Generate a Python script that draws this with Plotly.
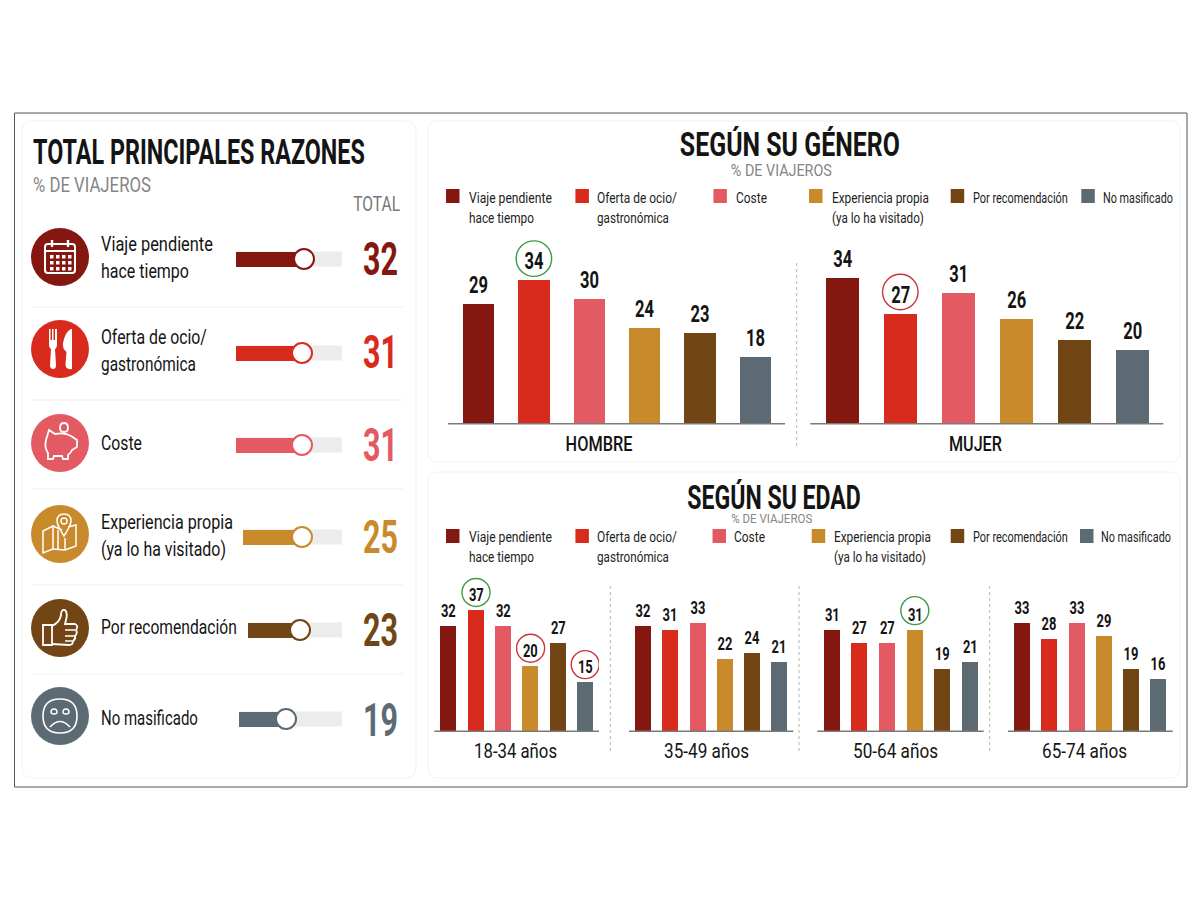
import re
import json
import plotly.graph_objects as go

# ---------------------------
# data
# ---------------------------
reasons = ['Viaje pendiente\nhace tiempo', 'Oferta de ocio/\ngastronómica', 'Coste',
           'Experiencia propia\n(ya lo ha visitado)', 'Por recomendación', 'No masificado']
total_values = [32, 31, 31, 25, 23, 19]

hombre = [29, 34, 30, 24, 23, 18]
mujer = [34, 27, 31, 26, 22, 20]
edad_18_34 = [32, 37, 32, 20, 27, 15]
edad_35_49 = [32, 31, 33, 22, 24, 21]
edad_50_64 = [31, 27, 27, 31, 19, 21]
edad_65_74 = [33, 28, 33, 29, 19, 16]

colors = ['#84170f', '#d92a1e', '#e35a63', '#c88a2b', '#714514', '#5c6b73']
GREEN = '#3f9a45'
RED = '#c9343a'
FONT = 'Roboto'
TEXT = '#141414'

# width of each text in the reference, its font is a condensed one
row_widths = {'Viaje pendiente': 112, 'hace tiempo': 88, 'Oferta de ocio/': 106, 'gastronómica': 95, 'Coste': 41,
              'Experiencia propia': 132, '(ya lo ha visitado)': 125, 'Por recomendación': 136, 'No masificado': 97}
legend_widths = {'Viaje pendiente': 83, 'hace tiempo': 65, 'Oferta de ocio/': 80, 'gastronómica': 72, 'Coste': 31,
                 'Experiencia propia': 97, '(ya lo ha visitado)': 92, 'Por recomendación': 95, 'No masificado': 70}

fig = go.Figure()
shapes = []
annotations = []
text_widths = []
layout = dict(
    width=1200, height=900, autosize=False,
    margin=dict(l=0, r=0, t=0, b=0, pad=0),
    paper_bgcolor='white', plot_bgcolor='rgba(0,0,0,0)',
    showlegend=False, bargap=0,
    font=dict(family=FONT, color=TEXT),
    # full page axis in pixels, used for everything around the charts
    xaxis=dict(domain=[0, 1], range=[0, 1200], visible=False, fixedrange=True),
    yaxis=dict(domain=[0, 1], range=[900, 0], visible=False, fixedrange=True),
)
fig.add_trace(go.Scatter(x=[], y=[], xaxis='x', yaxis='y', hoverinfo='skip'))


def txt(x, y, s, size, color=TEXT, anchor='left', weight=400, w=None):
    # annotations keep 2px of padding around the text
    x = x + {'left': -2, 'right': 2, 'center': 0}[anchor]
    text_widths.append(w)
    annotations.append(dict(x=x, y=y, xref='x', yref='y', text=s, showarrow=False,
                            xanchor=anchor, yanchor='middle', align=anchor,
                            font=dict(family=FONT, size=size, color=color, weight=weight)))


def lines(x, y, s, size, step, widths, color=TEXT, weight=400):
    for i, part in enumerate(s.split('\n')):
        txt(x, y + i * step, part, size, color, weight=weight, w=widths[part])


def rounded(x0, y0, x1, y1, r):
    return (f'M {x0 + r} {y0} L {x1 - r} {y0} Q {x1} {y0} {x1} {y0 + r} L {x1} {y1 - r} '
            f'Q {x1} {y1} {x1 - r} {y1} L {x0 + r} {y1} Q {x0} {y1} {x0} {y1 - r} '
            f'L {x0} {y0 + r} Q {x0} {y0} {x0 + r} {y0} Z')


def shape(**kw):
    kw.setdefault('xref', 'x')
    kw.setdefault('yref', 'y')
    kw.setdefault('layer', 'below')
    shapes.append(kw)


def icon(cx, cy, d, fill=None, width=1.6):
    # d is written around the centre of the icon
    nums = iter(range(10000))
    def move(m):
        return str(round(float(m.group()) + (cx if next(nums) % 2 == 0 else cy), 2))
    path = re.sub(r'-?\d+\.?\d*', move, d)
    shape(type='path', path=path, fillcolor=fill or 'rgba(0,0,0,0)',
          line=dict(color='white', width=0 if fill else width))


# ---------------------------
# frame and cards
# ---------------------------
shape(type='rect', x0=14.5, y0=113, x1=1187, y1=787, line=dict(color='#555555', width=1), fillcolor='white')
for box in [(22, 121, 416, 778), (428, 121, 1180, 462), (428, 472, 1180, 778)]:
    shape(type='path', path=rounded(*box, 10), line=dict(color='#f1f1f1', width=1), fillcolor='white')

# ---------------------------
# left panel
# ---------------------------
txt(33, 152, 'TOTAL PRINCIPALES RAZONES', 35, weight=700, w=332)
txt(33, 185, '% DE VIAJEROS', 20, '#858585', w=118)
txt(400, 204, 'TOTAL', 21, '#777777', anchor='right', w=47)

icon_y = [257, 349, 443, 534, 628, 716]
text_y = [244, 337, 443, 522, 627, 718]
slider_y = [259, 353, 445, 537, 630, 719]
slider_left = [236, 236, 236, 243, 248, 239]
knob_x = [304, 302, 302, 302, 300, 286]
total_y = [259, 352, 445, 537, 630, 720]
TRACK_END = 342

for sep in [307, 400, 489, 585, 674]:
    shape(type='line', x0=31, x1=403, y0=sep, y1=sep, line=dict(color='#efefef', width=1))

for i, reason in enumerate(reasons):
    shape(type='circle', x0=31, x1=89, y0=icon_y[i] - 29, y1=icon_y[i] + 29,
          fillcolor=colors[i], line=dict(width=0))
    lines(101, text_y[i], reason, 20, 26.5, row_widths)
    txt(363, total_y[i], str(total_values[i]), 46, colors[i], weight=700, w=35)

    # slider: one small axis per row
    ax = i + 2
    left = slider_left[i]
    top = slider_y[i] - 15
    bottom = slider_y[i] + 15
    shape(type='rect', x0=left, x1=TRACK_END, y0=slider_y[i] - 7.5, y1=slider_y[i] + 7.5,
          fillcolor='#ececec', line=dict(width=0))
    px_per_unit = (knob_x[i] - left) / total_values[i]
    layout[f'xaxis{ax}'] = dict(domain=[left / 1200, TRACK_END / 1200],
                                range=[0, (TRACK_END - left) / px_per_unit],
                                visible=False, fixedrange=True, anchor=f'y{ax}')
    layout[f'yaxis{ax}'] = dict(domain=[1 - bottom / 900, 1 - top / 900], range=[-0.5, 0.5],
                                visible=False, fixedrange=True, anchor=f'x{ax}')
    fig.add_trace(go.Bar(x=[total_values[i]], y=[0], orientation='h', width=0.5,
                         marker=dict(color=colors[i], line=dict(width=0)),
                         xaxis=f'x{ax}', yaxis=f'y{ax}', hoverinfo='skip'))
    fig.add_trace(go.Scatter(x=[total_values[i]], y=[0], mode='markers', cliponaxis=False,
                             marker=dict(size=20, color='white', line=dict(color=colors[i], width=2)),
                             xaxis=f'x{ax}', yaxis=f'y{ax}', hoverinfo='skip'))

# calendar
cx, cy = 60, icon_y[0]
icon(cx, cy, rounded(-15, -13, 15, 16, 3), width=2)
icon(cx, cy, 'M -15 -6 L 15 -6', width=2)
icon(cx, cy, 'M -8 -17 L -8 -10 M 8 -17 L 8 -10', width=2.4)
for gy in [-2, 4, 10]:
    for gx in [-10, -4, 2, 8]:
        icon(cx, cy, f'M {gx} {gy} L {gx + 3.5} {gy} L {gx + 3.5} {gy + 3.5} L {gx} {gy + 3.5} Z', fill='white')

# fork and knife
cx, cy = 60, icon_y[1]
icon(cx, cy, 'M -11 -20 L -9.5 -20 L -9.5 -9 L -8 -9 L -8 -20 L -6.5 -20 L -6.5 -9 L -5 -9 L -5 -20 L -3.5 -20 L -3.5 -20 '
             'L -3 -20 L -3 -5 Q -3 -1 -5 0 L -4 16 Q -4 20 -7 20 Q -10 20 -10 16 L -9 0 Q -11 -1 -11 -5 Z', fill='white')
icon(cx, cy, 'M 11 -20 L 12 -20 L 12 20 Q 5 21 5.5 15 L 6.5 3 Q 2 -1 3 -6 Q 5 -17 11 -20 Z', fill='white')

# piggy bank
cx, cy = 60, icon_y[2]
icon(cx, cy, 'M -14 -3 L -11 -13 L -5 -9 Q 5 -11 11 -7 L 17 -3 L 17 4 L 12 7 Q 11 10 8 12 L 8 16 L 3 16 L 2 13 '
             'L -6 13 L -7 16 L -12 16 L -12 10 Q -16 4 -14 -3 Z', width=1.8)
icon(cx, cy, 'M 8 -15 Q 8 -20 4 -20 Q 0 -20 0 -15 Q 0 -11 4 -11 Q 8 -11 8 -15 Z', width=1.8)

# map with pin
cx, cy = 60, icon_y[3]
icon(cx, cy, 'M -17 -3 L -7 -8 L -7 15 L -17 19 Z M -7 -8 L 2 -4 M 8 -7 L 16 -9 L 16 12 L 5 16 L -7 15 '
             'M 5 16 L 5 4 M -2 16 L -2 -4', width=1.5)
icon(cx, cy, 'M 4 2 Q -3 -9 -3 -13 Q -3 -20 4 -20 Q 11 -20 11 -13 Q 11 -9 4 2 Z', width=1.5)
icon(cx, cy, 'M 4 -16 Q 7 -16 7 -13 Q 7 -10 4 -10 Q 1 -10 1 -13 Q 1 -16 4 -16 Z', width=1.5)

# thumb up
cx, cy = 60, icon_y[4]
icon(cx, cy, 'M -17 -3 L -8 -3 L -8 17 L -17 17 Z', width=1.8)
icon(cx, cy, 'M -8 -2 Q 0 -6 1 -13 Q 1 -19 5 -18 Q 8 -15 6 -8 L 5 -4 L 15 -4 Q 19 -2 16 2 Q 18 5 15 8 '
             'Q 16 11 13 13 Q 13 17 9 17 L -8 16', width=1.8)
icon(cx, cy, 'M 5 2 L 15 2 M 5 8 L 15 8 M 5 13 L 12 13', width=1.5)

# sad face
cx, cy = 60, icon_y[5]
icon(cx, cy, 'M 0 -17 Q 17 -17 17 0 Q 17 17 0 17 Q -17 17 -17 0 Q -17 -17 0 -17 Z', width=1.6)
icon(cx, cy, 'M -10 11 Q 0 0 10 11', width=1.6)
icon(cx, cy, 'M -6 -7 Q -3 -7 -3 -4 Q -3 -2 -6 -2 Q -9 -2 -9 -4 Q -9 -7 -6 -7 Z', width=1.4)
icon(cx, cy, 'M 6 -7 Q 9 -7 9 -4 Q 9 -2 6 -2 Q 3 -2 3 -4 Q 3 -7 6 -7 Z', width=1.4)


# ---------------------------
# bar panels
# ---------------------------
def bar_panel(ax, values, left, right, first, step, bar_w, base_y, top_y, y_min, slope, label, label_x, label_y,
              label_size, label_w, value_size, circled, circle_d, circle_up):
    layout[f'xaxis{ax}'] = dict(domain=[left / 1200, right / 1200],
                                range=[(left - first) / step, (right - first) / step],
                                type='linear', anchor=f'y{ax}', showgrid=False, zeroline=False, showticklabels=False,
                                ticks='', showline=False, fixedrange=True)
    layout[f'yaxis{ax}'] = dict(domain=[1 - base_y / 900, 1 - top_y / 900],
                                range=[y_min, y_min + (base_y - top_y) / slope],
                                anchor=f'x{ax}', visible=False, fixedrange=True)
    fig.add_trace(go.Bar(x=list(range(6)), y=values, width=bar_w / step,
                         marker=dict(color=colors, line=dict(width=0)),
                         text=[str(v) for v in values], textposition='outside', textangle=0,
                         constraintext='none',
                         textfont=dict(family=FONT, size=value_size, color=TEXT, weight=700),
                         xaxis=f'x{ax}', yaxis=f'y{ax}', hoverinfo='skip'))
    shape(type='line', x0=left, x1=right, y0=base_y, y1=base_y, layer='above',
          line=dict(color='#7a7a7a', width=1.6))
    txt(label_x, label_y, label, label_size, anchor='center', weight=500 if label.isupper() else 400, w=label_w)
    for idx, col in circled:
        r = circle_d / 2
        shape(type='circle', xref=f'x{ax}', yref=f'y{ax}', layer='above',
              xsizemode='pixel', ysizemode='pixel', xanchor=idx, yanchor=values[idx],
              x0=-r, x1=r, y0=circle_up - r, y1=circle_up + r, line=dict(color=col, width=1.4))


bar_panel(8, hombre, 448, 785, 478.5, 55.4, 31.5, 423.7, 225, 4.3, 4.85, 'HOMBRE', 599.3, 444, 21, 67, 23,
          [(1, GREEN)], 35.5, 21)
bar_panel(9, mujer, 810.3, 1163.3, 842.3, 58, 33, 423.7, 225, 5.9, 5.2, 'MUJER', 975, 444, 21, 53, 23,
          [(1, RED)], 35.5, 22)

A_SLOPE = 3.28
bar_panel(10, edad_18_34, 434.3, 599, 448.7, 27.3, 16, 731.3, 570, 0, A_SLOPE, '18-34 años', 515, 750.7, 20, 83, 18,
          [(1, GREEN), (3, RED), (5, RED)], 28, 17.5)
bar_panel(11, edad_35_49, 629, 793.3, 643.3, 27.1, 16, 731.3, 570, 0, A_SLOPE, '35-49 años', 706.8, 750.7, 20, 85, 18,
          [], 28, 18)
bar_panel(12, edad_50_64, 817.3, 983.7, 832, 27.6, 16, 731.3, 570, 0, A_SLOPE, '50-64 años', 895.8, 750.7, 20, 85, 18,
          [(3, GREEN)], 28, 19)
bar_panel(13, edad_65_74, 1008, 1172.7, 1022.3, 27.1, 16, 731.3, 570, 0, A_SLOPE, '65-74 años', 1084.7, 750.7, 20, 85, 18,
          [], 28, 18)

for x_div, y0, y1 in [(796.7, 263, 448), (610.3, 586, 752.7), (799, 586, 752.7), (989.7, 586, 752.7)]:
    shape(type='line', x0=x_div, x1=x_div, y0=y0, y1=y1, line=dict(color='#b5b5b5', width=1, dash='dot'))

# ---------------------------
# titles and hand made legends
# ---------------------------
txt(789.6, 144, 'SEGÚN SU GÉNERO', 33, anchor='center', weight=700, w=220)
txt(781.5, 170, '% DE VIAJEROS', 16, '#858585', anchor='center', w=101)
txt(773.6, 497, 'SEGÚN SU EDAD', 33, anchor='center', weight=700, w=173.5)
txt(771.6, 518.5, '% DE VIAJEROS', 13, '#858585', anchor='center', w=81)


def legend(swatch_x, text_x, swatch_y, text_y):
    for i, reason in enumerate(reasons):
        shape(type='rect', x0=swatch_x[i], x1=swatch_x[i] + 13.5, y0=swatch_y, y1=swatch_y + 14,
              fillcolor=colors[i], line=dict(width=0))
        lines(text_x[i], text_y, reason, 15, 20.3, legend_widths, '#222222')


legend([446, 575.4, 713.4, 809, 950.7, 1081.3], [469.2, 597, 735.5, 831.7, 972.7, 1102.7], 189, 197.7)
legend([446, 575.4, 712.5, 811.7, 950.7, 1080], [469.2, 597, 734, 834.3, 972.7, 1101.3], 529, 536.7)

layout['shapes'] = shapes
layout['annotations'] = annotations
fig.update_layout(**layout)

# no condensed font here, so the text gets narrowed in the svg instead
squeeze = """
document.body.style.margin = '0';
var widths = %s;
function narrow(t, s, up) {
  var x = t.getAttribute('x') || 0;
  var tr = t.getAttribute('transform') || '';
  t.setAttribute('transform', tr + ' translate(' + x + ' ' + (-up) + ') scale(' + s + ' 1) translate(' + (-x) + ' 0)');
}
document.querySelectorAll('.annotation-text').forEach(function (t, i) {
  narrow(t, widths[i] ? widths[i] / t.getComputedTextLength() : 0.74, 0);
});
document.querySelectorAll('text.bartext').forEach(function (t) { narrow(t, 0.72, 2); });
""" % json.dumps(text_widths)

fig.write_html("out.html", config=dict(displayModeBar=False), post_script=squeeze)
